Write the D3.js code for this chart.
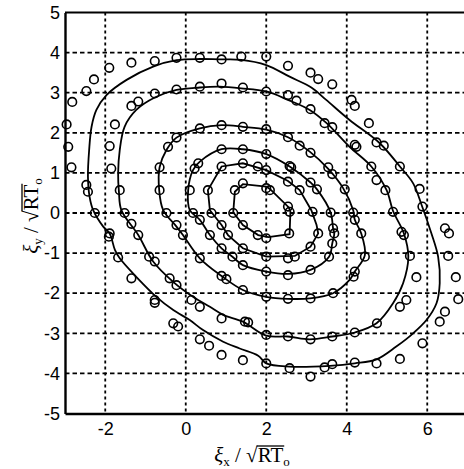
<!DOCTYPE html>
<html>
<head>
<meta charset="utf-8">
<script src="https://cdn.jsdelivr.net/npm/d3@7"></script>
<style>
  html, body { margin: 0; padding: 0; background: #fff; }
  svg { display: block; }
</style>
</head>
<body>
<div class="chart"></div>
<script>
// tick values
const xTicks = [-2, 0, 2, 4, 6];
const yTicks = [-5, -4, -3, -2, -1, 0, 1, 2, 3, 4, 5];

// closed contour lines, innermost first
const contour1 = [[1.22,0.53],[1.42,0.72],[2.0,0.66],[2.09,0.60],[2.56,0.14],[2.60,0.03],[2.58,-0.53],[2.05,-0.60],[1.80,-0.55],[1.42,-0.30],[1.18,0.02]];
const contour2 = [[0.60,0.07],[0.55,0.57],[0.89,1.16],[1.42,1.24],[2.0,1.07],[2.54,0.80],[2.83,0.57],[3.12,0.07],[3.25,-0.30],[3.29,-0.51],[3.10,-0.84],[2.71,-1.07],[2.0,-1.09],[1.42,-0.88],[1.05,-0.55],[0.89,-0.30]];
const contour3 = [[0.10,0.07],[0.06,0.57],[0.18,1.07],[0.35,1.28],[0.89,1.59],[1.42,1.59],[2.0,1.47],[2.60,1.15],[3.10,0.76],[3.26,0.59],[3.60,0.01],[3.66,-0.38],[3.69,-0.51],[3.64,-0.76],[3.56,-1.09],[3.10,-1.42],[2.54,-1.52],[2.0,-1.46],[1.42,-1.30],[1.16,-1.09],[0.89,-0.88],[0.60,-0.55],[0.35,-0.17]];
const contour4 = [[-0.56,0.07],[-0.66,0.57],[-0.65,1.14],[-0.48,1.57],[-0.23,1.88],[0.35,2.11],[0.89,2.19],[1.42,2.15],[2.0,2.08],[2.54,1.89],[3.08,1.53],[3.54,1.10],[3.91,0.62],[4.16,0.07],[4.20,-0.17],[4.36,-0.51],[4.45,-1.05],[4.20,-1.46],[4.07,-1.67],[3.66,-2.0],[3.08,-2.13],[2.54,-2.14],[2.0,-2.09],[1.42,-1.92],[0.89,-1.57],[0.35,-1.13],[-0.07,-0.55],[-0.23,-0.34]];
const contour5 = [[-1.60,0.07],[-1.66,0.53],[-1.68,0.99],[-1.64,1.57],[-1.52,2.15],[-1.23,2.57],[-0.77,2.88],[-0.23,3.07],[0.35,3.13],[0.84,3.15],[1.38,3.11],[2.0,3.03],[2.54,2.82],[3.08,2.57],[3.50,2.24],[4.07,1.65],[4.61,1.16],[4.99,0.57],[5.15,0.05],[5.42,-0.51],[5.53,-1.09],[5.40,-1.75],[5.15,-2.25],[4.74,-2.75],[4.20,-2.98],[3.64,-3.08],[3.08,-3.15],[2.54,-3.08],[2.0,-3.06],[1.42,-2.71],[0.93,-2.54],[0.60,-2.34],[0.18,-2.09],[-0.32,-1.71],[-0.81,-1.21],[-1.18,-0.55]];
const contour6 = [[-2.30,0.07],[-2.39,0.41],[-2.43,0.91],[-2.40,1.57],[-2.34,2.15],[-2.22,2.57],[-1.97,2.94],[-1.47,3.32],[-0.81,3.65],[-0.23,3.81],[0.35,3.84],[0.84,3.83],[1.38,3.82],[2.0,3.69],[2.58,3.40],[3.12,3.13],[3.49,2.82],[4.07,2.32],[4.82,1.74],[5.32,1.16],[5.65,0.74],[5.86,0.20],[6.10,-0.50],[6.27,-1.09],[6.31,-1.75],[6.23,-2.25],[5.98,-2.67],[5.65,-3.0],[5.23,-3.33],[4.74,-3.65],[4.20,-3.75],[3.58,-3.81],[2.58,-3.83],[2.0,-3.75],[1.80,-3.56],[1.34,-3.38],[0.93,-3.21],[0.43,-2.92],[0.10,-2.67],[-0.31,-2.42],[-0.73,-2.09],[-1.23,-1.59],[-1.64,-1.13],[-1.76,-0.92],[-1.89,-0.51],[-2.05,-0.34]];

// sample points (circles)
const pointsX = [
  -1.90,-1.35,-0.77,-0.23,0.35,0.89,1.38,-2.28,-2.47,-2.82,-2.96,-2.92,-2.84,
  -1.35,-1.18,-0.77,-0.23,0.35,0.89,1.42,-1.76,-1.89,-1.85,-2.47,-2.43,-1.64,
  -0.23,-0.44,-0.65,-0.65,0.35,0.89,1.42,0.31,0.22,0.10,0.89,1.42,0.89,1.42,0.55,1.42,1.22,
  2.0,2.54,3.10,3.29,3.64,4.12,4.20,4.55,4.74,4.92,5.32,5.81,5.88,
  2.0,2.54,2.75,3.10,3.45,3.64,4.20,4.24,4.61,4.74,4.96,
  2.0,2.54,2.83,3.10,3.54,3.64,3.95,2.0,2.58,2.62,3.10,3.26,1.79,2.0,2.54,2.83,2.0,2.09,2.54,
  -2.26,-1.52,-0.48,0.18,0.64,1.18,-1.89,-1.91,-1.35,-1.18,-1.68,-0.91,-0.77,
  -1.35,-0.40,-0.23,-0.77,-0.77,-0.31,-0.19,0.14,0.35,0.35,0.58,0.89,1.42,0.89,1.47,1.55,
  -0.23,-0.07,0.35,0.89,1.01,1.42,0.35,0.60,0.89,1.16,1.42,0.89,1.05,1.42,1.42,
  2.58,3.15,3.60,4.16,5.15,6.44,6.54,6.52,6.71,6.77,6.44,6.31,5.88,5.73,5.32,5.48,
  5.32,4.74,4.20,3.64,3.45,3.10,2.58,2.0,2.0,2.54,3.10,3.64,4.20,4.75,5.36,5.42,5.57,
  4.17,4.20,3.66,3.10,2.54,2.0,4.45,4.36,4.20,3.66,3.69,3.64,3.56,3.10,2.54,2.0,
  3.29,3.10,2.71,2.54,2.0,2.57,2.0,1.79
];
const pointsY = [
  3.62,3.75,3.79,3.87,3.87,3.83,3.90,3.33,3.04,2.77,2.21,1.65,1.14,
  2.67,2.78,2.98,3.08,3.15,3.23,3.13,2.21,1.67,1.11,0.70,0.53,0.57,
  1.88,1.65,1.14,0.57,2.11,2.19,2.15,1.24,1.11,0.57,1.59,1.59,1.16,1.24,0.57,0.74,0.57,
  3.90,3.67,3.50,3.34,3.21,2.82,2.67,2.24,1.76,1.68,1.16,0.60,0.16,
  3.03,2.94,2.80,2.59,2.24,2.14,1.70,1.65,1.16,0.82,0.57,
  2.09,1.89,1.68,1.50,1.14,0.97,0.59,1.47,1.17,1.14,0.76,0.59,1.16,1.07,0.78,0.57,0.62,0.57,0.16,
  0.0,0.0,0.0,0.0,0.0,0.0,-0.51,-0.59,-0.27,-0.55,-1.11,-1.09,-1.21,
  -1.63,-1.63,-1.80,-2.17,-2.24,-2.75,-2.83,-2.17,-2.34,-3.15,-3.31,-3.54,-3.67,-2.63,-2.71,-2.73,
  -0.30,-0.55,-1.13,-1.57,-1.65,-1.92,-0.17,-0.55,-0.88,-1.09,-1.30,-0.30,-0.55,-0.88,-0.30,
  0.03,0.03,0.01,0.01,0.03,-0.38,-0.51,-1.07,-1.60,-2.15,-2.46,-2.71,-3.25,-1.60,-2.34,-2.17,
  -3.64,-3.75,-3.73,-3.77,-3.85,-4.08,-3.87,-3.75,-3.04,-3.08,-3.15,-3.08,-2.98,-2.75,-0.47,-0.55,-1.07,
  -1.59,-1.46,-2.0,-2.13,-2.14,-2.09,-1.09,-0.51,-0.17,-0.38,-0.51,-0.76,-1.09,-1.42,-1.55,-1.46,
  -0.51,-0.84,-1.09,-1.13,-1.09,-0.51,-0.63,-0.55
];

const width = 464;
const height = 469;

const x = d3.scaleLinear().domain([-3, 7]).range([65, 467.5]);
const y = d3.scaleLinear().domain([-5, 5]).range([413.5, 12.5]);

const svg = d3.select(".chart")
  .append("svg")
  .attr("width", width)
  .attr("height", height);

// dashed grid
svg.append("g")
  .selectAll("line")
  .data(xTicks)
  .join("line")
  .attr("x1", d => x(d))
  .attr("x2", d => x(d))
  .attr("y1", y(5))
  .attr("y2", y(-5))
  .attr("stroke", "#000")
  .attr("stroke-width", 1.8)
  .attr("stroke-dasharray", "3,3");

svg.append("g")
  .selectAll("line")
  .data(yTicks.filter(d => d > -5 && d < 5))
  .join("line")
  .attr("x1", x(-3))
  .attr("x2", x(7))
  .attr("y1", d => y(d))
  .attr("y2", d => y(d))
  .attr("stroke", "#000")
  .attr("stroke-width", 1.8)
  .attr("stroke-dasharray", "4.5,3");

// contours
const closedSmooth = d3.line()
  .x(d => x(d[0]))
  .y(d => y(d[1]))
  .curve(d3.curveCatmullRomClosed.alpha(0.5));

const closedLinear = d3.line()
  .x(d => x(d[0]))
  .y(d => y(d[1]))
  .curve(d3.curveLinearClosed);

svg.append("g")
  .selectAll("path")
  .data([contour1, contour2, contour3, contour4, contour5, contour6])
  .join("path")
  .attr("d", (d, i) => i < 2 ? closedLinear(d) : closedSmooth(d))
  .attr("fill", "none")
  .attr("stroke", "#000")
  .attr("stroke-width", 1.8);

// circles
svg.append("g")
  .selectAll("circle")
  .data(d3.range(pointsX.length))
  .join("circle")
  .attr("cx", i => x(pointsX[i]))
  .attr("cy", i => y(pointsY[i]))
  .attr("r", 4.3)
  .attr("fill", "none")
  .attr("stroke", "#000")
  .attr("stroke-width", 1.6);

// frame: left, bottom, top (plain hyphen for negatives, as in the original)
const plain = d => String(d);
const axisX = d3.axisBottom(x).tickValues(xTicks).tickSize(0).tickPadding(9).tickFormat(plain);
const axisY = d3.axisLeft(y).tickValues(yTicks).tickSize(0).tickPadding(5).tickFormat(plain);

const gx = svg.append("g")
  .attr("transform", `translate(0, ${y(-5)})`)
  .call(axisX);
const gy = svg.append("g")
  .attr("transform", `translate(${x(-3)}, 0)`)
  .call(axisY);

svg.append("line")
  .attr("x1", x(-3)).attr("x2", x(7))
  .attr("y1", y(5)).attr("y2", y(5))
  .attr("stroke", "#000").attr("stroke-width", 2.2);

[gx, gy].forEach(g => {
  g.select(".domain").attr("stroke", "#000").attr("stroke-width", 2.4);
  g.selectAll("text")
    .attr("fill", "#000")
    .style("font-family", "'Liberation Sans', Arial, sans-serif")
    .style("font-size", "18px");
});

// axis titles: xi / sqrt(RT_o)
function axisTitle(sub, tx, ty, rot) {
  const g = svg.append("g").attr("transform", `translate(${tx}, ${ty}) rotate(${rot})`);
  const t = g.append("text")
    .attr("text-anchor", "middle")
    .style("font-family", "'Liberation Serif', 'Times New Roman', serif")
    .style("font-size", "21px")
    .attr("fill", "#000");
  t.append("tspan").text("ξ").style("font-style", "italic");
  t.append("tspan").text(sub).attr("dy", 4).style("font-size", "13px");
  t.append("tspan").text(" / √").attr("dy", -4);
  t.append("tspan").text("RT");
  t.append("tspan").text("o").attr("dy", 4).style("font-size", "13px");
  const node = t.node();
  const r = node.getExtentOfChar(5);
  const e = node.getExtentOfChar(7);
  g.append("line")
    .attr("x1", r.x + r.width - 1)
    .attr("x2", e.x + e.width + 1)
    .attr("y1", r.y + 3)
    .attr("y2", r.y + 3)
    .attr("stroke", "#000")
    .attr("stroke-width", 1.3);
}

axisTitle("x", 252, 462, 0);
axisTitle("y", 38, 216, -90);
</script>
</body>
</html>
